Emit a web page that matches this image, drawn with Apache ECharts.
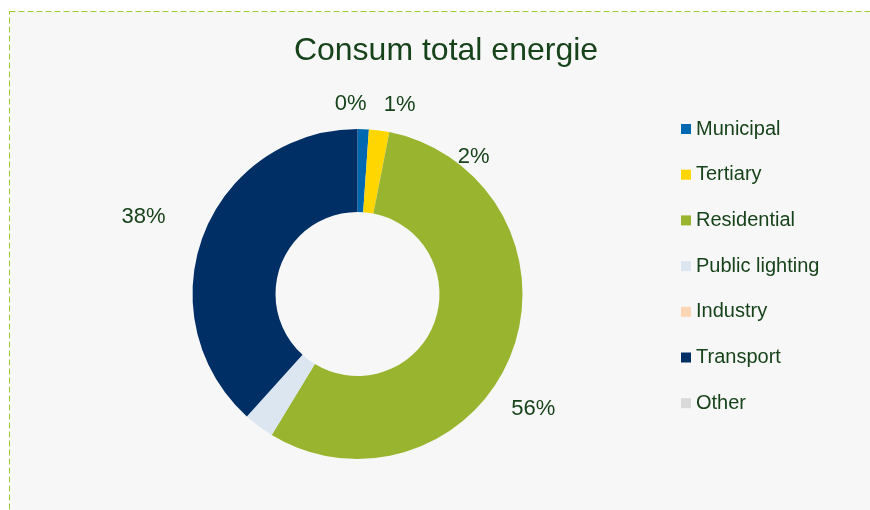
<!DOCTYPE html>
<html>
<head>
<meta charset="utf-8">
<script src="https://cdn.jsdelivr.net/npm/echarts@6/dist/echarts.min.js"></script>
<style>
  html, body { margin: 0; padding: 0; background: #ffffff; }
  #chart { width: 870px; height: 510px; }
</style>
</head>
<body>
<div id="chart"></div>
<script>
// Energy consumption shares by sector (percent of total)
const titleText = 'Consum total energie';
const sectors = ['Municipal', 'Tertiary', 'Residential', 'Public lighting', 'Industry', 'Transport', 'Other'];
const shares = [1.1, 2.0, 55.6, 3.0, 0, 38.3, 0];
// sectors whose percentage label is printed next to the ring
const labelledSectors = ['Municipal', 'Tertiary', 'Residential', 'Transport', 'Other'];

const sectorColors = ['#0067b1', '#ffd600', '#99b42e', '#dce6f1', '#fcd5b4', '#002f66', '#d9d9d9'];
const textColor = '#17431a';

// small offsets that move each percentage label away from its default spot
const labelNudge = {
  'Other': [44, -10],
  'Municipal': [-15, -9],
  'Tertiary': [-20, 19],
  'Transport': [11, -12],
  'Residential': [-49, 50]
};

const chart = echarts.init(document.getElementById('chart'), null, { renderer: 'canvas' });

const pieData = sectors.map((name, i) => ({
  name: name,
  value: shares[i],
  itemStyle: { color: sectorColors[i] },
  label: { show: labelledSectors.includes(name) }
}));

chart.setOption({
  backgroundColor: '#ffffff',
  animation: false,
  graphic: [{
    type: 'rect',
    silent: true,
    z: -10,
    shape: { x: 9.5, y: 11.5, width: 900, height: 600 },
    style: { fill: '#f7f7f7', stroke: '#9acd32', lineWidth: 1, lineDash: [6, 3] }
  }],
  title: {
    text: titleText,
    left: 441,
    textAlign: 'center',
    top: 30,
    textStyle: { fontFamily: 'Liberation Sans', fontSize: 32, fontWeight: 'normal', color: textColor }
  },
  legend: {
    orient: 'vertical',
    left: 681,
    top: 119,
    padding: 0,
    icon: 'rect',
    itemWidth: 10,
    itemHeight: 10,
    itemGap: 25.7,
    itemTextGap: 5,
    data: sectors,
    textStyle: { fontFamily: 'Liberation Sans', fontSize: 20, lineHeight: 20, color: textColor }
  },
  series: [{
    type: 'pie',
    center: [357.5, 294],
    radius: [82, 165],
    startAngle: 90,
    clockwise: true,
    percentPrecision: 0,
    stillShowZeroSum: true,
    avoidLabelOverlap: true,
    label: {
      show: true,
      position: 'outside',
      formatter: '{d}%',
      fontFamily: 'Liberation Sans',
      fontSize: 22,
      color: textColor
    },
    labelLine: { show: false },
    labelLayout: function (params) {
      const name = sectors[params.dataIndex];
      const n = labelNudge[name] || [0, 0];
      return { dx: n[0], dy: n[1] };
    },
    emphasis: { disabled: true },
    data: pieData
  }]
});
</script>
</body>
</html>
